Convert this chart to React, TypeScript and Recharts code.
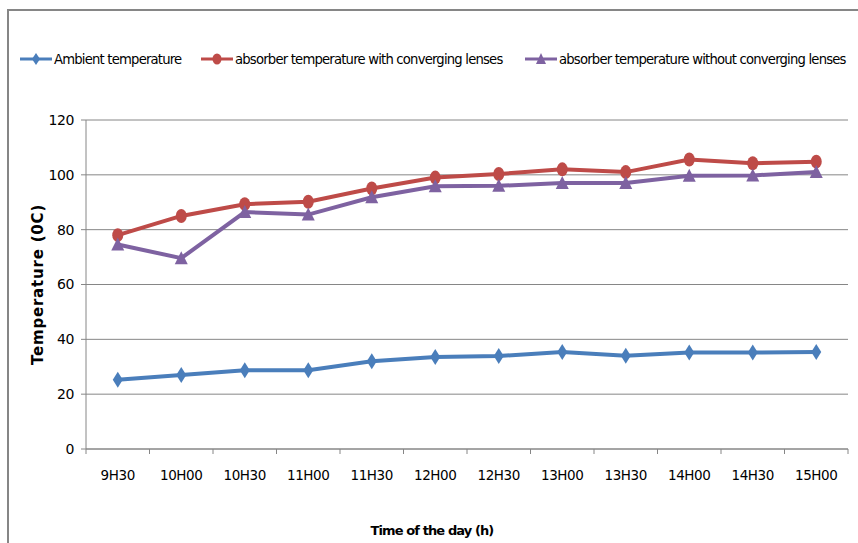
import { CartesianGrid, Line, LineChart, XAxis, YAxis } from "recharts";

const FONT = "'DejaVu Sans', sans-serif";

const times = ["9H30", "10H00", "10H30", "11H00", "11H30", "12H00", "12H30", "13H00", "13H30", "14H00", "14H30", "15H00"];
const ambient = [25.3, 27, 28.7, 28.7, 32, 33.6, 33.9, 35.4, 34, 35.2, 35.2, 35.4];
const withLenses = [78, 85, 89.3, 90.2, 95, 99, 100.3, 102, 101, 105.6, 104.2, 104.8];
const withoutLenses = [74.6, 69.6, 86.4, 85.5, 91.8, 95.8, 96, 97, 97, 99.7, 99.8, 101];
const yTicks = [0, 20, 40, 60, 80, 100, 120];

const BLUE = "#4A7EBB";
const RED = "#BE4B48";
const PURPLE = "#7E62A1";
const GRID = "#868686";

const data = times.map((t, i) => ({
  time: t,
  ambient: ambient[i],
  withLenses: withLenses[i],
  withoutLenses: withoutLenses[i],
}));

function Diamond({ cx, cy, fill }: any) {
  if (cx == null || cy == null) return null;
  return <path d={`M${cx},${cy - 8} L${cx + 5},${cy} L${cx},${cy + 8} L${cx - 5},${cy} Z`} fill={fill} />;
}

function Circle({ cx, cy, fill }: any) {
  if (cx == null || cy == null) return null;
  return <ellipse cx={cx} cy={cy} rx={5.5} ry={7} fill={fill} />;
}

function Triangle({ cx, cy, fill }: any) {
  if (cx == null || cy == null) return null;
  return <path d={`M${cx},${cy - 7} L${cx + 6.5},${cy + 6} L${cx - 6.5},${cy + 6} Z`} fill={fill} />;
}

const BAND = 63.5;

function TimeTick({ x, y, payload, index }: any) {
  return (
    <g>
      <line x1={x - BAND / 2} y1={y - 8} x2={x - BAND / 2} y2={y - 3} stroke={GRID} />
      {index === times.length - 1 && (
        <line x1={x + BAND / 2} y1={y - 8} x2={x + BAND / 2} y2={y - 3} stroke={GRID} />
      )}
      <text x={x} y={y + 23} textAnchor="middle" fontSize={13.5} fontFamily={FONT} fill="#000" letterSpacing={-0.4}>
        {payload.value}
      </text>
    </g>
  );
}

function LegendItem({ color, label, shape, left }: { color: string; label: string; shape: string; left: number }) {
  return (
    <div style={{ position: "absolute", left, top: 0, display: "flex", alignItems: "center", whiteSpace: "nowrap" }}>
      <svg width={34} height={16}>
        <line x1={1} y1={8} x2={33} y2={8} stroke={color} strokeWidth={3} />
        {shape === "diamond" && <path d="M17,2 L21,8 L17,14 L13,8 Z" fill={color} />}
        {shape === "circle" && <ellipse cx={17} cy={8} rx={4.5} ry={5.5} fill={color} />}
        {shape === "triangle" && <path d="M17,2 L22,13 L12,13 Z" fill={color} />}
      </svg>
      <span style={{ marginLeft: 1 }}>{label}</span>
    </div>
  );
}

export default function App() {
  return (
    <div
      style={{
        position: "absolute",
        left: 0,
        top: 0,
        width: 858,
        height: 543,
        overflow: "hidden",
        background: "#fff",
        fontFamily: FONT,
      }}
    >
      <div
        style={{
          position: "absolute",
          left: 7,
          top: 9,
          width: 1000,
          height: 1000,
          borderLeft: `2px solid ${GRID}`,
          borderTop: `2px solid ${GRID}`,
        }}
      />
      <div style={{ position: "absolute", left: 0, top: 51, fontSize: 13.2, color: "#000", letterSpacing: -0.8 }}>
        <LegendItem color={BLUE} label="Ambient temperature" shape="diamond" left={19} />
        <LegendItem color={RED} label="absorber temperature with converging lenses" shape="circle" left={200} />
        <LegendItem color={PURPLE} label="absorber temperature without converging lenses" shape="triangle" left={524} />
      </div>
      <div style={{ position: "absolute", left: 0, top: 0 }}>
        <LineChart width={858} height={543} data={data} margin={{ top: 120, right: 10, bottom: 0, left: 36 }}>
          <CartesianGrid vertical={false} stroke={GRID} strokeWidth={1} />
          <XAxis
            dataKey="time"
            height={94}
            stroke={GRID}
            tickLine={false}
            tick={<TimeTick />}
            interval={0}
            padding={{ left: BAND / 2, right: BAND / 2 }}
            label={{
              value: "Time of the day (h)",
              position: "insideBottom",
              offset: 8,
              dx: -35,
              style: { fontFamily: FONT, fontSize: 13, fontWeight: "bold", fill: "#000", letterSpacing: -0.9 },
            }}
          />
          <YAxis
            width={50}
            domain={[0, 120]}
            ticks={yTicks}
            stroke={GRID}
            tickSize={5}
            tickMargin={7}
            tick={{ fontSize: 14, fontFamily: FONT, fill: "#000", letterSpacing: -0.4 }}
            label={{
              value: "Temperature (0C)",
              angle: -90,
              position: "insideLeft",
              offset: 2,
              style: { textAnchor: "middle", fontFamily: FONT, fontSize: 15, fontWeight: "bold", fill: "#000", letterSpacing: 0.8 },
            }}
          />
          <Line
            dataKey="ambient"
            stroke={BLUE}
            strokeWidth={4}
            dot={<Diamond fill={BLUE} />}
            isAnimationActive={false}
          />
          <Line
            dataKey="withLenses"
            stroke={RED}
            strokeWidth={4}
            dot={<Circle fill={RED} />}
            isAnimationActive={false}
          />
          <Line
            dataKey="withoutLenses"
            stroke={PURPLE}
            strokeWidth={4}
            dot={<Triangle fill={PURPLE} />}
            isAnimationActive={false}
          />
        </LineChart>
      </div>
    </div>
  );
}
